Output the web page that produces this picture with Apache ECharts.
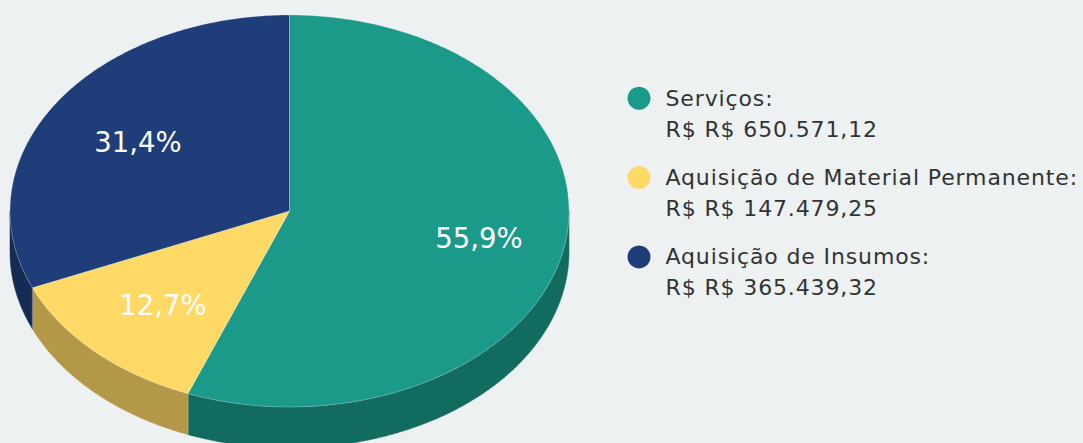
<!DOCTYPE html>
<html>
<head>
<meta charset="utf-8">
<style>
    html, body { margin: 0; padding: 0; background: #edf1f2; }
    #chart { width: 1083px; height: 443px; letter-spacing: 0.87px; }
    /* percent labels are the only white text, they stay unspaced */
    #chart text[fill="#fff"], #chart text[style*="#fff"] { letter-spacing: 0; }
</style>
</head>
<body>
<div id="chart"></div>
<script src="https://cdn.jsdelivr.net/npm/echarts@6/dist/echarts.min.js"></script>
<script>
const categories = ['Serviços', 'Aquisição de Material Permanente', 'Aquisição de Insumos'];
const values = [650571.12, 147479.25, 365439.32];
const valueLabels = ['R$ R$ 650.571,12', 'R$ R$ 147.479,25', 'R$ R$ 365.439,32'];
const percentLabels = ['55,9%', '12,7%', '31,4%'];
const colors = ['#1b9a8a', '#ffd966', '#1f3d78'];
const sideColors = ['#116b5e', '#b39848', '#162b54'];

// pie geometry (flattened disc)
const cx = 289.5, cy = 211, rx = 279.5, ry = 196, depth = 41;
const labelRadius = [0.69, 0.65, 0.65];
const labelShift = [2, 3, 1];
const total = values.reduce((a, b) => a + b, 0);

// clockwise from 12 o'clock, in radians
const point = (a, r, dy) => [cx + Math.sin(a) * rx * r, cy - Math.cos(a) * ry * r + (dy || 0)];

function arc(from, to, dy) {
    const pts = [];
    const steps = Math.max(2, Math.ceil((to - from) * 90));
    for (let i = 0; i <= steps; i++) {
        pts.push(point(from + (to - from) * i / steps, 1, dy));
    }
    return pts;
}

function sliceItem(index) {
    return function (params, api) {
        const before = values.slice(0, index).reduce((a, b) => a + b, 0);
        const start = before / total * Math.PI * 2;
        const end = start + api.value(0) / total * Math.PI * 2;
        const children = [];
        const edge = { stroke: 'rgba(255,255,255,0.25)', lineWidth: 1 };

        // the wall only shows on the front half of the disc
        const wallFrom = Math.max(start, Math.PI / 2);
        const wallTo = Math.min(end, Math.PI * 1.5);
        if (wallTo > wallFrom) {
            children.push({
                type: 'polygon',
                shape: { points: arc(wallFrom, wallTo, 0).concat(arc(wallFrom, wallTo, depth).reverse()) },
                style: { fill: sideColors[index], stroke: sideColors[index], lineWidth: 0.5 },
            });
            if (wallFrom === start) {
                children.push({
                    type: 'line',
                    shape: { x1: point(start, 1)[0], y1: point(start, 1)[1], x2: point(start, 1)[0], y2: point(start, 1, depth)[1] },
                    style: edge,
                });
            }
        }
        children.push({
            type: 'polygon',
            shape: { points: [[cx, cy]].concat(arc(start, end, 0)) },
            style: { fill: colors[index], ...edge },
        });
        const mid = (start + end) / 2;
        const pos = point(mid, labelRadius[index], labelShift[index]);
        children.push({
            type: 'text',
            x: pos[0],
            y: pos[1],
            style: {
                text: percentLabels[index],
                fill: '#fff',
                font: '27.5px "DejaVu Sans"',
                align: 'center',
                verticalAlign: 'middle',
            },
        });
        return { type: 'group', children };
    };
}

// svg renderer so the css letter-spacing reaches the legend text
const chart = echarts.init(document.getElementById('chart'), null, { renderer: 'svg' });
chart.setOption({
    backgroundColor: '#edf1f2',
    animation: false,
    legend: {
        orient: 'vertical',
        left: 622.5,
        top: 44.3,
        icon: 'circle',
        itemWidth: 23,
        itemHeight: 23,
        itemGap: -18.7,
        selectedMode: false,
        textStyle: {
            color: '#333',
            fontFamily: 'DejaVu Sans',
            fontSize: 22,
            lineHeight: 31,
            padding: [5, 0, 0, 10],
        },
        formatter: (name) => `\n${name}:\n${valueLabels[categories.indexOf(name)]}`,
    },
    series: categories.map((name, i) => ({
        type: 'custom',
        name,
        coordinateSystem: 'none',
        silent: true,
        itemStyle: { color: colors[i] },
        data: [[values[i]]],
        renderItem: sliceItem(i),
    })),
});
</script>
</body>
</html>
